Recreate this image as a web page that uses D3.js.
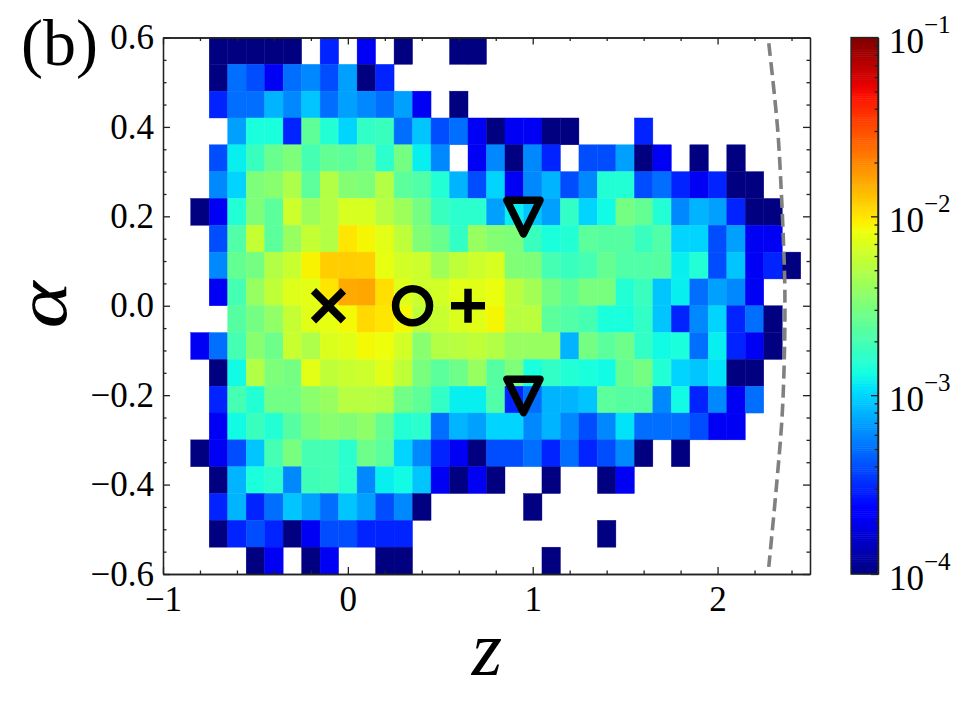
<!DOCTYPE html>
<html lang="en">
<head>
    <meta charset="UTF-8">
    <title>Density map (b)</title>
    <script src="https://d3js.org/d3.v7.min.js"></script>
    <style>
        body { margin: 0; background: #fff; }
        svg { display: block; }
        text { font-family: "Liberation Serif", serif; fill: #000; }
        .domain, .tick line { stroke: #222; stroke-width: 1.3; }
    </style>
</head>
<body>
    <div id="chart"></div>

    <script>
        const _ = null;

        const densityPerCount = 1e-4;
        const firstBinZ = -0.85, binWidthZ = 0.1;
        const firstBinAlpha = 0.6, binHeightAlpha = 0.06;

        const row0 = [_,1,1,1,1,1,_,3,_,2,_,1,_,_,1,1,_,_,_,_,_,_,_,_,_,_,_,_,_,_,_,_,_];
        const row1 = [_,1,5,4,2,5,6,4,7,1,3,_,_,_,_,_,_,_,_,_,_,_,_,_,_,_,_,_,_,_,_,_,_];
        const row2 = [_,3,5,5,8,6,9,5,7,6,5,7,2,_,1,_,_,_,_,_,_,_,_,_,_,_,_,_,_,_,_,_,_];
        const row3 = [_,_,7,14,14,3,25,15,10,17,18,5,9,4,5,2,1,2,2,1,1,_,_,_,3,_,_,_,_,_,_,_,_];
        const row4 = [_,4,12,18,27,32,20,26,24,28,16,30,12,6,_,2,6,1,6,3,_,4,4,7,1,2,_,1,_,1,_,_,_];
        const row5 = [_,6,10,32,35,48,24,50,34,32,50,24,22,15,8,4,10,2,6,8,4,6,15,15,4,5,3,2,3,1,1,_,_];
        const row6 = [1,2,15,32,24,62,42,50,68,68,52,42,30,18,16,16,7,12,9,7,17,10,13,30,26,15,6,8,7,3,1,1,_];
        const row7 = [_,4,22,58,24,40,58,50,100,88,75,55,33,27,17,40,34,32,18,14,15,24,23,23,18,22,10,10,4,7,2,2,_];
        const row8 = [_,6,26,30,50,60,90,120,120,118,78,65,62,43,56,62,68,33,32,20,18,20,26,22,22,23,12,15,4,9,2,3,1];
        const row9 = [_,2,20,40,56,72,75,100,155,160,105,72,62,65,75,74,80,54,44,30,25,31,31,15,18,9,12,5,7,6,2,_,_];
        const row10 = [_,_,23,30,38,58,74,78,86,110,100,86,56,60,70,74,88,52,54,24,22,20,14,14,17,9,3,6,10,3,5,1,_];
        const row11 = [2,5,20,35,28,60,48,70,74,86,82,65,35,50,52,56,50,40,40,40,8,30,24,28,17,13,14,5,12,3,2,1,_];
        const row12 = [_,1,13,50,32,30,75,56,60,62,74,56,31,24,28,40,23,32,14,17,15,14,13,26,30,15,10,9,11,1,1,_,_];
        const row13 = [_,3,20,15,29,29,36,40,52,52,50,29,25,17,12,12,22,3,5,8,8,9,24,23,23,6,13,3,6,2,5,_,_];
        const row14 = [_,2,13,18,15,23,31,35,33,37,26,15,16,5,8,7,10,10,6,8,6,4,6,11,5,5,5,4,2,2,_,_,_];
        const row15 = [1,2,4,9,20,31,20,20,16,28,24,10,6,3,2,1,4,4,5,3,5,3,4,6,1,_,1,_,_,_,_,_,_];
        const row16 = [_,1,8,14,16,6,19,20,16,6,12,13,9,2,1,2,1,_,_,1,_,_,1,2,_,_,_,_,_,_,_,_,_];
        const row17 = [_,3,8,3,5,9,7,5,9,7,4,6,1,_,_,_,_,_,1,_,_,_,_,_,_,_,_,_,_,_,_,_,_];
        const row18 = [_,1,3,4,3,1,2,4,4,3,3,3,_,_,_,_,_,_,_,_,_,_,1,_,_,_,_,_,_,_,_,_,_];
        const row19 = [_,_,_,1,2,_,1,2,_,_,1,1,_,_,_,_,_,_,_,1,_,_,_,_,_,_,_,_,_,_,_,_,_];
        const rows = [row0, row1, row2, row3, row4, row5, row6, row7, row8, row9,
                      row10, row11, row12, row13, row14, row15, row16, row17, row18, row19];

        const zTicks = [-1, 0, 1, 2];
        const alphaTicks = [-0.6, -0.4, -0.2, 0, 0.2, 0.4, 0.6];
        const colorTicks = [1e-4, 1e-3, 1e-2, 1e-1];

        // dashed boundary
        const boundaryAlpha = [0.587, 0.40, 0.244, 0.125, 0.035, -0.10, -0.248, -0.397, -0.584];
        const boundaryZ = [2.277, 2.324, 2.346, 2.358, 2.364, 2.362, 2.349, 2.32, 2.277];

        const crossPoint = {z: -0.105, alpha: 0};
        const circlePoint = {z: 0.35, alpha: 0};
        const plusPoint = {z: 0.65, alpha: 0};
        const trianglePoints = [{z: 0.95, alpha: 0.2}, {z: 0.95, alpha: -0.2}];

        const width = 971, height = 704;
        const plot = {left: 163, right: 810, top: 37.5, bottom: 574};
        const bar = {left: 851, right: 878};

        const svg = d3.select("#chart").append("svg")
            .attr("width", width)
            .attr("height", height);

        const x = d3.scaleLinear().domain([-1, 2.5]).range([plot.left, plot.right]);
        const y = d3.scaleLinear().domain([-0.6, 0.6]).range([plot.bottom, plot.top]);
        const c = d3.scaleLog().domain([1e-4, 1e-1]).range([plot.bottom, plot.top]);
        const colorPos = d3.scaleLog().domain([1e-4, 1e-1]).range([0, 1]).clamp(true);

        // jet colormap
        const jetR = d3.scaleLinear().domain([0.35, 0.66, 0.89, 1]).range([0, 1, 1, 0.5]).clamp(true);
        const jetG = d3.scaleLinear().domain([0.125, 0.375, 0.64, 0.91]).range([0, 1, 1, 0]).clamp(true);
        const jetB = d3.scaleLinear().domain([0, 0.11, 0.34, 0.65]).range([0.5, 1, 1, 0]).clamp(true);
        function jet(t) {
            return d3.rgb(jetR(t) * 255, jetG(t) * 255, jetB(t) * 255).formatHex();
        }

        // heat map cells
        const cells = [];
        rows.forEach((row, i) => row.forEach((count, j) => {
            if (count !== null) cells.push({i, j, density: count * densityPerCount});
        }));

        svg.append("g").selectAll("rect")
            .data(cells)
            .enter().append("rect")
            .attr("x", d => x(firstBinZ + d.j * binWidthZ))
            .attr("width", x(binWidthZ) - x(0))
            .attr("y", d => y(firstBinAlpha - d.i * binHeightAlpha))
            .attr("height", y(0) - y(binHeightAlpha))
            .attr("fill", d => jet(colorPos(d.density)))
            .attr("stroke", d => jet(colorPos(d.density)))
            .attr("stroke-width", 0.4);

        // dashed curve
        const boundary = d3.line()
            .x(d => x(d[0]))
            .y(d => y(d[1]))
            .curve(d3.curveCatmullRom);
        svg.append("path")
            .attr("d", boundary(boundaryZ.map((z, i) => [z, boundaryAlpha[i]])))
            .attr("fill", "none")
            .attr("stroke", "#808080")
            .attr("stroke-width", 3.6)
            .attr("stroke-dasharray", "13 6");

        // axes, ticks point inward
        const minorZ = d3.range(-1, 2.5001, 0.2).filter(v => Math.abs(v * 10 % 10) > 0.01);
        const minorAlpha = d3.range(-0.6, 0.6001, 0.05)
            .filter(v => !alphaTicks.some(t => Math.abs(t - v) < 0.001));
        const minus = s => String(s).replace("-", "\u2212");

        function addAxis(axis, ty, tx) {
            return svg.append("g")
                .attr("transform", "translate(" + tx + "," + ty + ")")
                .call(axis);
        }

        const xLabels = addAxis(d3.axisBottom(x).tickValues(zTicks).tickSize(-7).tickSizeOuter(0)
            .tickPadding(12).tickFormat(minus), plot.bottom, 0);
        xLabels.selectAll("text").attr("font-size", 35);
        addAxis(d3.axisBottom(x).tickValues(minorZ).tickSize(-3.5).tickSizeOuter(0).tickFormat(""), plot.bottom, 0);
        addAxis(d3.axisTop(x).tickValues(zTicks).tickSize(-7).tickSizeOuter(0).tickFormat(""), plot.top, 0);
        addAxis(d3.axisTop(x).tickValues(minorZ).tickSize(-3.5).tickSizeOuter(0).tickFormat(""), plot.top, 0);

        const yLabels = addAxis(d3.axisLeft(y).tickValues(alphaTicks).tickSize(-7).tickSizeOuter(0)
            .tickPadding(9).tickFormat(d => minus(d3.format(".1f")(d))), 0, plot.left);
        yLabels.selectAll("text").attr("font-size", 35);
        addAxis(d3.axisLeft(y).tickValues(minorAlpha).tickSize(-3.5).tickSizeOuter(0).tickFormat(""), 0, plot.left);
        addAxis(d3.axisRight(y).tickValues(alphaTicks).tickSize(-7).tickSizeOuter(0).tickFormat(""), 0, plot.right);
        addAxis(d3.axisRight(y).tickValues(minorAlpha).tickSize(-3.5).tickSizeOuter(0).tickFormat(""), 0, plot.right);

        // markers
        const markers = svg.append("g")
            .attr("fill", "none")
            .attr("stroke", "#000")
            .attr("stroke-width", 7.5);

        const cross = d3.path();
        const crossArm = 15;
        cross.moveTo(x(crossPoint.z) - crossArm, y(crossPoint.alpha) - crossArm);
        cross.lineTo(x(crossPoint.z) + crossArm, y(crossPoint.alpha) + crossArm);
        cross.moveTo(x(crossPoint.z) - crossArm, y(crossPoint.alpha) + crossArm);
        cross.lineTo(x(crossPoint.z) + crossArm, y(crossPoint.alpha) - crossArm);
        markers.append("path").attr("d", cross.toString());

        markers.append("circle")
            .attr("cx", x(circlePoint.z))
            .attr("cy", y(circlePoint.alpha))
            .attr("r", 17);

        const plus = d3.path();
        const plusArm = 17;
        plus.moveTo(x(plusPoint.z) - plusArm, y(plusPoint.alpha));
        plus.lineTo(x(plusPoint.z) + plusArm, y(plusPoint.alpha));
        plus.moveTo(x(plusPoint.z), y(plusPoint.alpha) - plusArm);
        plus.lineTo(x(plusPoint.z), y(plusPoint.alpha) + plusArm);
        markers.append("path").attr("d", plus.toString());

        markers.selectAll(".tri")
            .data(trianglePoints)
            .enter().append("path")
            .attr("class", "tri")
            .attr("stroke-linejoin", "round")
            .attr("d", d => {
                const px = x(d.z), py = y(d.alpha);
                return "M" + (px - 16.5) + "," + (py - 16) + "L" + (px + 16.5) + "," + (py - 16) +
                       "L" + px + "," + (py + 17.5) + "Z";
            });

        // colorbar
        const barSteps = d3.range(256);
        svg.append("g").selectAll("rect")
            .data(barSteps)
            .enter().append("rect")
            .attr("x", bar.left)
            .attr("width", bar.right - bar.left)
            .attr("y", d => plot.top + (plot.bottom - plot.top) * (255 - d) / 256)
            .attr("height", (plot.bottom - plot.top) / 256 + 0.5)
            .attr("fill", d => jet((d + 0.5) / 256));

        svg.append("rect")
            .attr("x", bar.left)
            .attr("y", plot.top)
            .attr("width", bar.right - bar.left)
            .attr("height", plot.bottom - plot.top)
            .attr("fill", "none")
            .attr("stroke", "#222")
            .attr("stroke-width", 1.3);

        const minorColor = colorTicks.slice(0, 3)
            .flatMap(t => d3.range(2, 10).map(m => t * m));
        addAxis(d3.axisRight(c).tickValues(minorColor).tickSize(-3.5).tickSizeOuter(0).tickFormat(""), 0, bar.right);
        const barAxis = addAxis(d3.axisRight(c).tickValues(colorTicks).tickSize(-7).tickSizeOuter(0)
            .tickPadding(11).tickFormat(""), 0, bar.right);

        const barText = barAxis.selectAll(".tick text")
            .attr("font-size", 35)
            .attr("dy", "0.44em");
        barText.append("tspan").text("10");
        barText.append("tspan")
            .attr("font-size", 25)
            .attr("dy", -20)
            .text(d => "\u2212" + Math.round(-Math.log10(d)));

        // labels
        svg.append("text")
            .attr("x", 21)
            .attr("y", 65)
            .attr("font-size", 66)
            .text("(b)");

        svg.append("text")
            .attr("x", 487)
            .attr("y", 675)
            .attr("text-anchor", "middle")
            .attr("font-size", 78)
            .attr("font-style", "italic")
            .text("z");

        svg.append("text")
            .attr("transform", "translate(66,305) rotate(-90) scale(1.28,1.02)")
            .attr("text-anchor", "middle")
            .attr("font-size", 70)
            .attr("font-style", "italic")
            .text("\u03b1");
    </script>
</body>
</html>
